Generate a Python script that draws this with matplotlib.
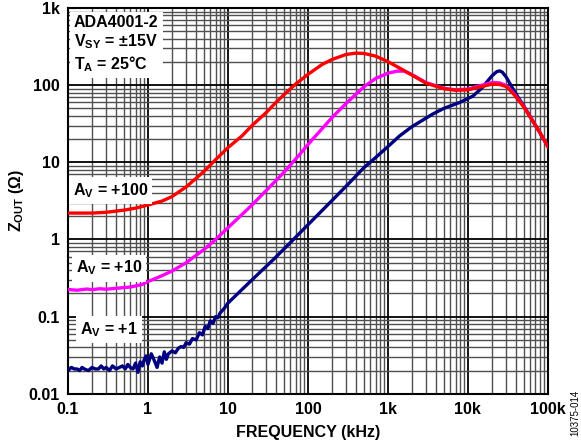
import numpy as np
import matplotlib.pyplot as plt
from matplotlib.ticker import LogLocator, FixedLocator, FixedFormatter, NullFormatter

plt.rcParams['font.family'] = ['Liberation Sans', 'DejaVu Sans']
plt.rcParams['font.weight'] = 'bold'
plt.rcParams['mathtext.fontset'] = 'custom'
plt.rcParams['mathtext.rm'] = 'Liberation Sans:bold'
plt.rcParams['mathtext.it'] = 'Liberation Sans:bold'
plt.rcParams['mathtext.bf'] = 'Liberation Sans:bold'
plt.rcParams['mathtext.default'] = 'rm'

# frequency in kHz, Zout in ohm
f_av100 = [0.1, 0.2, 0.3, 0.5, 0.7, 1, 1.5, 2, 3, 5, 7, 10, 15, 20, 30, 40, 50, 70, 100,
           150, 200, 300, 400, 500, 700, 1000, 1500, 2000, 3000, 5000, 7000, 10000,
           15000, 20000, 25000, 30000, 36000, 43000, 50000, 65000, 80000, 100000]
z_av100 = [2.2, 2.2, 2.25, 2.4, 2.55, 2.8, 3.15, 3.6, 4.8, 7.6, 10.8, 15.5, 22, 30,
           44, 60, 75, 103, 138, 185, 215, 250, 260, 258, 238, 202, 160, 135, 106, 90,
           86, 87, 96, 103, 102, 96, 80, 64, 52, 34, 24, 16]

f_av10 = [0.1, 0.13, 0.17, 0.2, 0.25, 0.3, 0.4, 0.5, 0.6, 0.7, 0.85, 1, 1.5, 2, 3, 5,
          7, 10, 20, 30, 50, 78, 100, 200, 300, 500, 700, 1000, 1300, 1600, 2000,
          3000, 5000, 7000, 10000, 15000, 20000, 25000, 30000, 36000, 43000, 50000,
          65000, 80000, 100000]
z_av10 = [0.225, 0.22, 0.228, 0.224, 0.23, 0.227, 0.233, 0.238, 0.242, 0.25, 0.262,
          0.285, 0.34, 0.39, 0.5, 0.74, 1.0, 1.42, 2.8, 4.3, 7.4, 12.5, 17, 38, 58,
          95, 122, 143, 152, 152, 137, 108, 91, 87, 89, 100, 108, 107, 99, 82, 65,
          53, 34, 24, 16]

f_av1 = [0.10, 0.11, 0.12, 0.13, 0.14, 0.15, 0.16, 0.18, 0.20, 0.22, 0.24, 0.26,
         0.28, 0.30, 0.33, 0.36, 0.40, 0.44, 0.48, 0.52, 0.56, 0.60, 0.65, 0.70,
         0.75, 0.80, 0.85, 0.90, 0.95, 1.0, 1.1, 1.2, 1.3, 1.4, 1.5, 1.6, 1.7, 1.8,
         2.0, 2.2, 2.4, 2.6, 2.8, 3.0, 3.3, 3.6, 4.0, 4.4, 4.8, 5.2, 5.6, 6.0, 6.5,
         7.0, 7.5, 8.0, 9.0, 10, 14, 20, 37, 50, 100, 200, 300, 500, 700, 1000,
         1400, 2000, 3600, 5000, 8000, 11500, 15000, 17000, 20000, 23000, 25000,
         27000, 30000, 33000, 36000, 43000, 50000, 65000, 80000, 100000]
z_av1 = [0.020, 0.022, 0.021, 0.021, 0.020, 0.022, 0.021, 0.020, 0.022, 0.021,
         0.021, 0.023, 0.021, 0.022, 0.020, 0.023, 0.021, 0.022, 0.023, 0.021,
         0.024, 0.022, 0.021, 0.025, 0.019, 0.026, 0.023, 0.028, 0.031, 0.024,
         0.033, 0.027, 0.022, 0.030, 0.025, 0.035, 0.028, 0.033, 0.036, 0.034,
         0.039, 0.041, 0.040, 0.046, 0.044, 0.052, 0.050, 0.062, 0.058, 0.075,
         0.070, 0.088, 0.082, 0.100, 0.097, 0.112, 0.128, 0.15, 0.21, 0.30, 0.55,
         0.75, 1.55, 3.2, 4.9, 8.5, 11.5, 16, 22, 29, 42, 50, 60, 72, 92, 108,
         132, 150, 153, 147, 128, 108, 92, 68, 54, 34, 24, 16]

x_ticks = [0.1, 1, 10, 100, 1000, 10000, 100000]
x_labels = ['0.1', '1', '10', '100', '1k', '10k', '100k']
y_ticks = [0.01, 0.1, 1, 10, 100, 1000]
y_labels = ['0.01', '0.1', '1', '10', '100', '1k']

fig = plt.figure(figsize=(5.81, 4.44), dpi=100)
ax = fig.add_axes([0.117, 0.113, 0.826, 0.869])

ax.plot(f_av1, z_av1, color='#000080', lw=2.4, zorder=3)
ax.plot(f_av10, z_av10, color='#FF00FF', lw=2.4, zorder=4)
ax.plot(f_av100, z_av100, color='#FF0000', lw=2.4, zorder=5)

ax.set_xscale('log')
ax.set_yscale('log')
ax.set_xlim(0.1, 100000)
ax.set_ylim(0.01, 1000)

ax.xaxis.set_major_locator(FixedLocator(x_ticks))
ax.xaxis.set_major_formatter(FixedFormatter(x_labels))
ax.yaxis.set_major_locator(FixedLocator(y_ticks))
ax.yaxis.set_major_formatter(FixedFormatter(y_labels))
ax.xaxis.set_minor_locator(LogLocator(base=10, subs=range(2, 10), numticks=30))
ax.yaxis.set_minor_locator(LogLocator(base=10, subs=range(2, 10), numticks=30))
ax.xaxis.set_minor_formatter(NullFormatter())
ax.yaxis.set_minor_formatter(NullFormatter())

ax.grid(which='major', color='black', lw=1.3, zorder=1)
ax.grid(which='minor', color='#505050', lw=1.0, zorder=1)
ax.set_axisbelow(True)
ax.tick_params(which='both', length=0, labelsize=11.5, pad=6)
for s in ax.spines.values():
    s.set_linewidth(1.5)

ax.set_xlabel('FREQUENCY (kHz)', fontsize=11.5, fontweight='bold', labelpad=6)
ax.set_ylabel(r'Z$_{OUT}$ (Ω)', fontsize=11.5, fontweight='bold', labelpad=2)

box = dict(facecolor='white', edgecolor='none', pad=3)
ax.text(0.012, 0.982, 'ADA4001-2\n' + r'V$_{SY}$ = ±15V' + '\n' + r'T$_{A}$ = 25°C',
        transform=ax.transAxes, ha='left', va='top', fontsize=11.5,
        fontweight='bold', linespacing=1.2, bbox=box, zorder=6)
ax.text(0.01, 0.526, r'A$_{V}$ = +100', transform=ax.transAxes, ha='left',
        va='center', fontsize=11.5, fontweight='bold', bbox=box, zorder=6)
ax.text(0.016, 0.326, r'A$_{V}$ = +10', transform=ax.transAxes, ha='left',
        va='center', fontsize=11.5, fontweight='bold', bbox=box, zorder=6)
ax.text(0.025, 0.166, r'A$_{V}$ = +1', transform=ax.transAxes, ha='left',
        va='center', fontsize=11.5, fontweight='bold', bbox=box, zorder=6)

fig.text(0.99, 0.07, '10375-014', rotation=90, ha='center', va='center',
         fontsize=7, fontweight='normal')

fig.savefig('out.png', dpi=100)
